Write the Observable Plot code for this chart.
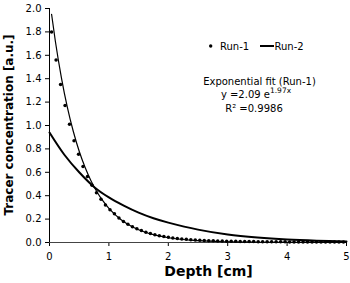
<!DOCTYPE html>
<html><head><meta charset="utf-8">
<script src="https://cdn.jsdelivr.net/npm/d3@7"></script>
<script src="https://cdn.jsdelivr.net/npm/@observablehq/plot@0.6"></script>
<style>body{margin:0;background:#fff}</style>
</head><body><div id="chart"></div>
<script>
// Run-1 measured points (depth in cm, concentration a.u.)
const run1Depth = [0.035,0.111,0.186,0.262,0.337,0.413,0.489,0.564,0.640,0.715,0.791,0.867,0.942,1.018,1.093,1.169,1.245,1.320,1.396,1.471,1.547,1.623,1.698,1.774,1.849,1.925,2.001,2.076,2.152,2.227,2.303,2.379,2.454,2.530,2.605,2.681,2.757,2.832,2.908,2.983,3.059,3.135,3.210,3.286,3.361,3.437,3.513,3.588,3.664,3.739,3.815,3.891,3.966,4.042,4.117,4.193,4.269,4.344,4.420,4.495,4.571,4.647,4.722,4.798,4.873,4.949];
const run1Conc = [1.80,1.56,1.35,1.17,1.01,0.87,0.755,0.65,0.565,0.49,0.425,0.37,0.32,0.28,0.245,0.21,0.18,0.155,0.135,0.118,0.102,0.088,0.077,0.067,0.058,0.051,0.045,0.039,0.034,0.030,0.027,0.024,0.021,0.019,0.017,0.015,0.014,0.013,0.012,0.011,0.010,0.010,0.009,0.009,0.008,0.008,0.007,0.007,0.007,0.006,0.006,0.006,0.006,0.005,0.005,0.005,0.005,0.005,0.004,0.004,0.004,0.004,0.004,0.004,0.004,0.004];
// Exponential fit curve of Run-1
const fitDepth = [0.035,0.1,0.2,0.3,0.4,0.5,0.6,0.7,0.8,0.9,1.0,1.2,1.4,1.6,1.8,2.0,2.5,3.0,3.5,4.0,4.5,5.0];
const fitConc = [1.951,1.716,1.410,1.157,0.951,0.780,0.641,0.526,0.432,0.355,0.2915,0.1965,0.1325,0.0894,0.0603,0.0406,0.0152,0.0057,0.0021,0.0008,0.0003,0.0001];
// Run-2 curve
const run2Depth = [0,0.25,0.5,0.75,1.0,1.25,1.5,1.75,2.0,2.5,3.0,3.5,4.0,4.5,5.0];
const run2Conc = [0.94,0.75,0.60,0.475,0.385,0.315,0.255,0.207,0.17,0.11,0.068,0.042,0.025,0.015,0.009];
// Ticks and texts
const xTicks = [0,1,2,3,4,5];
const yTicks = [0,0.2,0.4,0.6,0.8,1.0,1.2,1.4,1.6,1.8,2.0];
const xLabel = "Depth [cm]";
const yLabel = "Tracer concentration [a.u.]";
const seriesNames = ["Run-1","Run-2"];
const fitTitle = "Exponential fit (Run-1)";
const fitEq = "y =2.09 e";
const fitExp = "1.97x";
const fitR2 = "R\u00B2 =0.9986";

const run1 = run1Depth.map((x,i)=>({x, y: run1Conc[i]}));
const fit = fitDepth.map((x,i)=>({x, y: fitConc[i]}));
const run2 = run2Depth.map((x,i)=>({x, y: run2Conc[i]}));

const plot = Plot.plot({
  width: 350, height: 283,
  marginLeft: 49, marginRight: 4, marginTop: 8, marginBottom: 41,
  style: {fontFamily: "DejaVu Sans", fontSize: "10px", color: "#000", background: "#fff", overflow: "visible"},
  x: {domain: [0,5]},
  y: {domain: [0,2]},
  marks: [
    Plot.axisY({ticks: yTicks, tickFormat: d => d.toFixed(1), tickSize: 4, tickPadding: 4, label: null, stroke: "#000"}),
    Plot.axisX({ticks: xTicks, tickFormat: d => String(d), tickSize: 4, tickPadding: 6, label: null, stroke: "#000"}),
    Plot.ruleY([0], {stroke: "#444"}),
    Plot.ruleX([0], {stroke: "#000"}),
    Plot.line(run2, {x: "x", y: "y", stroke: "#000", strokeWidth: 2, curve: "catmull-rom"}),
    Plot.line(fit, {x: "x", y: "y", stroke: "#000", strokeWidth: 1.2, curve: "monotone-x"}),
    Plot.dot(run1, {x: "x", y: "y", r: 1.75, fill: "#000", stroke: null})
  ]
});
document.getElementById("chart").appendChild(plot);

// axis titles, legend & fit annotation
const svg = d3.select(plot);
const g = svg.append("g").attr("font-family", "DejaVu Sans").attr("font-size", 10).attr("fill", "#000").attr("text-anchor", "start");
g.append("text").attr("transform", "translate(12.5,125) rotate(-90)").attr("text-anchor", "middle")
  .attr("font-weight", "bold").attr("font-size", 12).text(yLabel);
g.append("text").attr("x", 208.5).attr("y", 276).attr("text-anchor", "middle")
  .attr("font-weight", "bold").attr("font-size", 14).text(xLabel);
g.append("circle").attr("cx", 210.7).attr("cy", 46).attr("r", 1.7).attr("fill", "#000");
g.append("text").attr("x", 220).attr("y", 49.5).text(seriesNames[0]);
g.append("line").attr("x1", 260).attr("x2", 274).attr("y1", 46).attr("y2", 46).attr("stroke", "#000").attr("stroke-width", 2);
g.append("text").attr("x", 274.5).attr("y", 49.5).text(seriesNames[1]);
g.append("text").attr("x", 259.5).attr("y", 85).attr("text-anchor", "middle").text(fitTitle);
const eq = g.append("text").attr("x", 256).attr("y", 97.5).attr("text-anchor", "middle").attr("xml:space", "preserve");
eq.append("tspan").text(fitEq);
eq.append("tspan").attr("dy", -4.5).attr("font-size", 7.5).text(fitExp);
g.append("text").attr("x", 254).attr("y", 111.5).attr("text-anchor", "middle").text(fitR2);
</script>
</body></html>
